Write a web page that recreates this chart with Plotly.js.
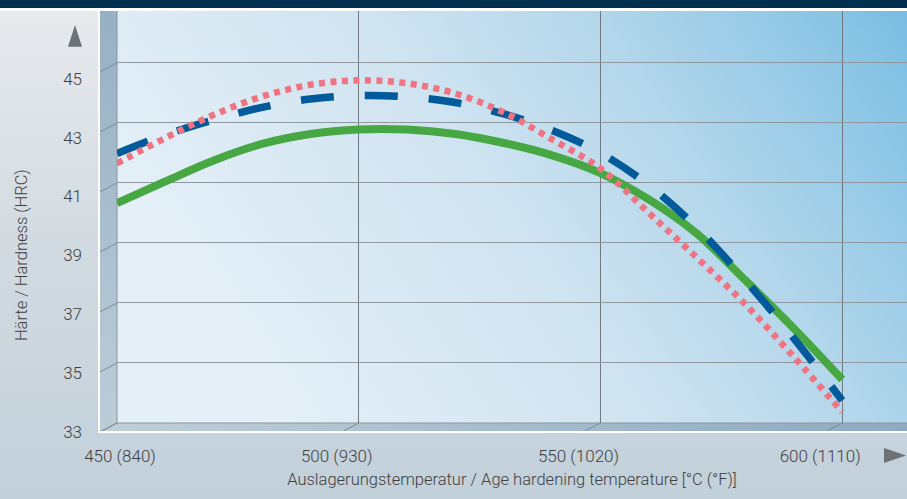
<!DOCTYPE html>
<html><head><meta charset="utf-8">
<script src="https://cdn.plot.ly/plotly-3.0.1.min.js"></script>
<style>
html,body{margin:0;padding:0;}
#wrap{width:907px;height:499px;background:linear-gradient(to bottom,#e9ebee 0%,#d4dce2 45%,#c2d0da 100%);}
#chart{width:907px;height:499px;}
</style></head><body><div id="wrap"><div id="chart"></div></div>
<script>
// ---- data ----
const temperaturesC = [450,460,470,480,490,500,510,520,530,540,550,560,570,580,590,600];
const hardnessGreen = [40.33,41.05,41.75,42.3,42.63,42.78,42.78,42.63,42.33,41.92,41.33,40.45,39.3,37.75,36.15,34.45];
const hardnessBlue  = [41.98,42.6,43.1,43.52,43.8,43.91,43.87,43.68,43.3,42.75,42.0,40.92,39.5,37.75,35.82,33.75];
const hardnessPink  = [41.65,42.5,43.27,43.88,44.27,44.42,44.32,43.98,43.35,42.45,41.48,40.0,38.5,36.95,35.2,33.37];
const xTickVals = [450,500,550,600];
const xTickText = ['450 (840)','500 (930)','550 (1020)','600 (1110)'];
const yTickVals = [33,35,37,39,41,43,45];
const xTitle = 'Auslagerungstemperatur / Age hardening temperature [°C (°F)]';
const yTitle = 'Härte / Hardness (HRC)';

// ---- geometry / style ----
const W=907,H=499,M={l:98,r:0,t:11,b:54};
const PW=W-M.l-M.r, PH=H-M.t-M.b;
const depthX=19, depthY=10;
const wallLeft=M.l+depthX, wallBottom=423;
const xRange=[450,613.4], yRange=[33,46.73];
const FONT='Roboto, "Open Sans", sans-serif';
const TXT='#3f3f3f';

function px(x){return wallLeft+(x-xRange[0])/(xRange[1]-xRange[0])*(W-wallLeft);}
function py(y){return wallBottom-(y-yRange[0])/(yRange[1]-yRange[0])*(wallBottom-M.t);}
function fx(p){return (p-M.l)/PW;}
function fy(p){return (M.t+PH-p)/PH;}

// background svg (walls, floor, perspective ticks)
const ox=M.l, oy=M.t, sw=W-M.l, sh=433-M.t;
let diag='';
yTickVals.forEach(v=>{const X=wallLeft-ox, Y=py(v)-oy; diag+=`<line x1='${X}' y1='${Y}' x2='${X-depthX}' y2='${Y+depthY}' stroke='#7f8a93' stroke-width='1'/>`;});
xTickVals.forEach(v=>{const X=px(v)-ox, Y=wallBottom-oy; diag+=`<line x1='${X}' y1='${Y}' x2='${X-depthX}' y2='${Y+depthY}' stroke='#7f8a93' stroke-width='1'/>`;});
const bwX=wallLeft-ox, bwH=wallBottom-oy;
const svg=`<svg xmlns='http://www.w3.org/2000/svg' width='${sw}' height='${sh}' viewBox='0 0 ${sw} ${sh}' preserveAspectRatio='none'>
<defs>
<linearGradient id='bw' gradientUnits='userSpaceOnUse' x1='200' y1='${bwH}' x2='${sw}' y2='0'>
<stop offset='0' stop-color='#e4eff7'/><stop offset='0.4' stop-color='#cfe3f0'/><stop offset='0.65' stop-color='#b2d6eb'/><stop offset='0.93' stop-color='#86c3e4'/><stop offset='1' stop-color='#78bce1'/>
</linearGradient>
<linearGradient id='lw' x1='0' y1='0' x2='0' y2='1'><stop offset='0' stop-color='#97b0c4'/><stop offset='1' stop-color='#bccdd8'/></linearGradient>
<linearGradient id='fl' x1='0' y1='0' x2='1' y2='0'><stop offset='0' stop-color='#bfcfd9'/><stop offset='1' stop-color='#8eabc1'/></linearGradient>
</defs>
<rect x='${bwX}' y='0' width='${sw-bwX}' height='${bwH}' fill='url(#bw)'/>
<polygon points='0,0 ${bwX},0 ${bwX},${bwH} 0,${bwH+depthY} ' fill='url(#lw)'/>
<polygon points='0,${bwH+depthY} ${bwX},${bwH} ${sw},${bwH} ${sw},${bwH+depthY}' fill='url(#fl)'/>
${diag}
<line x1='${bwX}' y1='0' x2='${bwX}' y2='${bwH}' stroke='#8a949c' stroke-width='1'/>
<line x1='${bwX}' y1='${bwH}' x2='${sw}' y2='${bwH}' stroke='#8a949c' stroke-width='1'/>
<line x1='1' y1='0' x2='1' y2='${sh}' stroke='#ffffff' stroke-width='2'/>
<line x1='0' y1='${sh-1}' x2='${sw}' y2='${sh-1}' stroke='#ffffff' stroke-width='2'/>
</svg>`;
const bgSrc='data:image/svg+xml;charset=utf-8,'+encodeURIComponent(svg);

const traces=[
 {x:temperaturesC,y:hardnessGreen,mode:'lines',line:{color:'#47a843',width:8,shape:'spline',smoothing:1},hoverinfo:'skip'},
 {x:temperaturesC,y:hardnessBlue,mode:'lines',line:{color:'#005a9c',width:7.5,shape:'spline',smoothing:1,dash:'33px,31px'},hoverinfo:'skip'},
 {x:temperaturesC,y:hardnessPink,mode:'lines',line:{color:'#f07382',width:6.5,shape:'spline',smoothing:1,dash:'6px,5.5px'},hoverinfo:'skip'},
 {x:[],y:[],xaxis:'x3',yaxis:'y',hoverinfo:'skip'},
 {x:[],y:[],xaxis:'x4',yaxis:'y',hoverinfo:'skip'},
 {x:[],y:[],xaxis:'x2',yaxis:'y2',hoverinfo:'skip'}
];

const tf={family:FONT,size:17,color:TXT,weight:300};
const ttf={family:FONT,size:16.5,color:TXT,weight:300};
const layout={
 width:W,height:H,margin:M,showlegend:false,
 paper_bgcolor:'rgba(0,0,0,0)',plot_bgcolor:'rgba(0,0,0,0)',
 font:{family:FONT,color:TXT,size:16},
 xaxis:{domain:[depthX/PW,1],range:xRange,tickvals:xTickVals,showticklabels:false,showgrid:true,gridcolor:'#6f7981',gridwidth:1.3,zeroline:false,showline:false,ticks:'',anchor:'y'},
 xaxis3:{overlaying:'x',range:xRange,tickvals:xTickVals.slice(1),ticktext:xTickText.slice(1),showgrid:false,zeroline:false,showline:false,ticks:'',ticklabelshift:-22,ticklabelstandoff:21,tickfont:tf,
   title:{text:xTitle,font:ttf,standoff:8}},
 xaxis4:{overlaying:'x',range:xRange,tickvals:xTickVals.slice(0,1),ticktext:xTickText.slice(0,1),showgrid:false,zeroline:false,showline:false,ticks:'',ticklabelshift:3,ticklabelstandoff:21,tickfont:tf},
 yaxis:{domain:[(M.t+PH-wallBottom)/PH,1],range:yRange,tickvals:yTickVals,showticklabels:false,showgrid:true,gridcolor:'#8f989f',gridwidth:1,zeroline:false,showline:false,ticks:''},
 xaxis2:{visible:false,domain:[0,0.005],anchor:'y2',range:[0,1]},
 yaxis2:{anchor:'free',position:0,domain:[fy(431.7),fy(78.8)],range:[33,45],tickvals:yTickVals,showgrid:false,zeroline:false,showline:false,ticks:'',ticklabelstandoff:16,tickfont:tf,
   title:{text:yTitle,font:ttf,standoff:30}},
 images:[{source:bgSrc,xref:'paper',yref:'paper',x:0,y:1,sizex:1,sizey:sh/PH,sizing:'stretch',xanchor:'left',yanchor:'top',layer:'below'}],
 shapes:[
  {type:'rect',xref:'paper',yref:'paper',x0:fx(0),x1:fx(W),y0:fy(8),y1:fy(0),fillcolor:'#00304d',line:{width:0}},
  {type:'rect',xref:'paper',yref:'paper',x0:fx(0),x1:fx(W),y0:fy(11),y1:fy(8),fillcolor:'#ffffff',line:{width:0}},
  {type:'path',xref:'paper',yref:'paper',path:`M ${fx(68)} ${fy(46.7)} L ${fx(75)} ${fy(25)} L ${fx(82)} ${fy(46.7)} Z`,fillcolor:'#6d7276',line:{width:0}},
  {type:'path',xref:'paper',yref:'paper',path:`M ${fx(884)} ${fy(448)} L ${fx(906)} ${fy(455.5)} L ${fx(884)} ${fy(463)} Z`,fillcolor:'#6d7276',line:{width:0}}
 ]
};
Plotly.newPlot('chart',traces,layout,{staticPlot:true,displayModeBar:false});
</script></body></html>
